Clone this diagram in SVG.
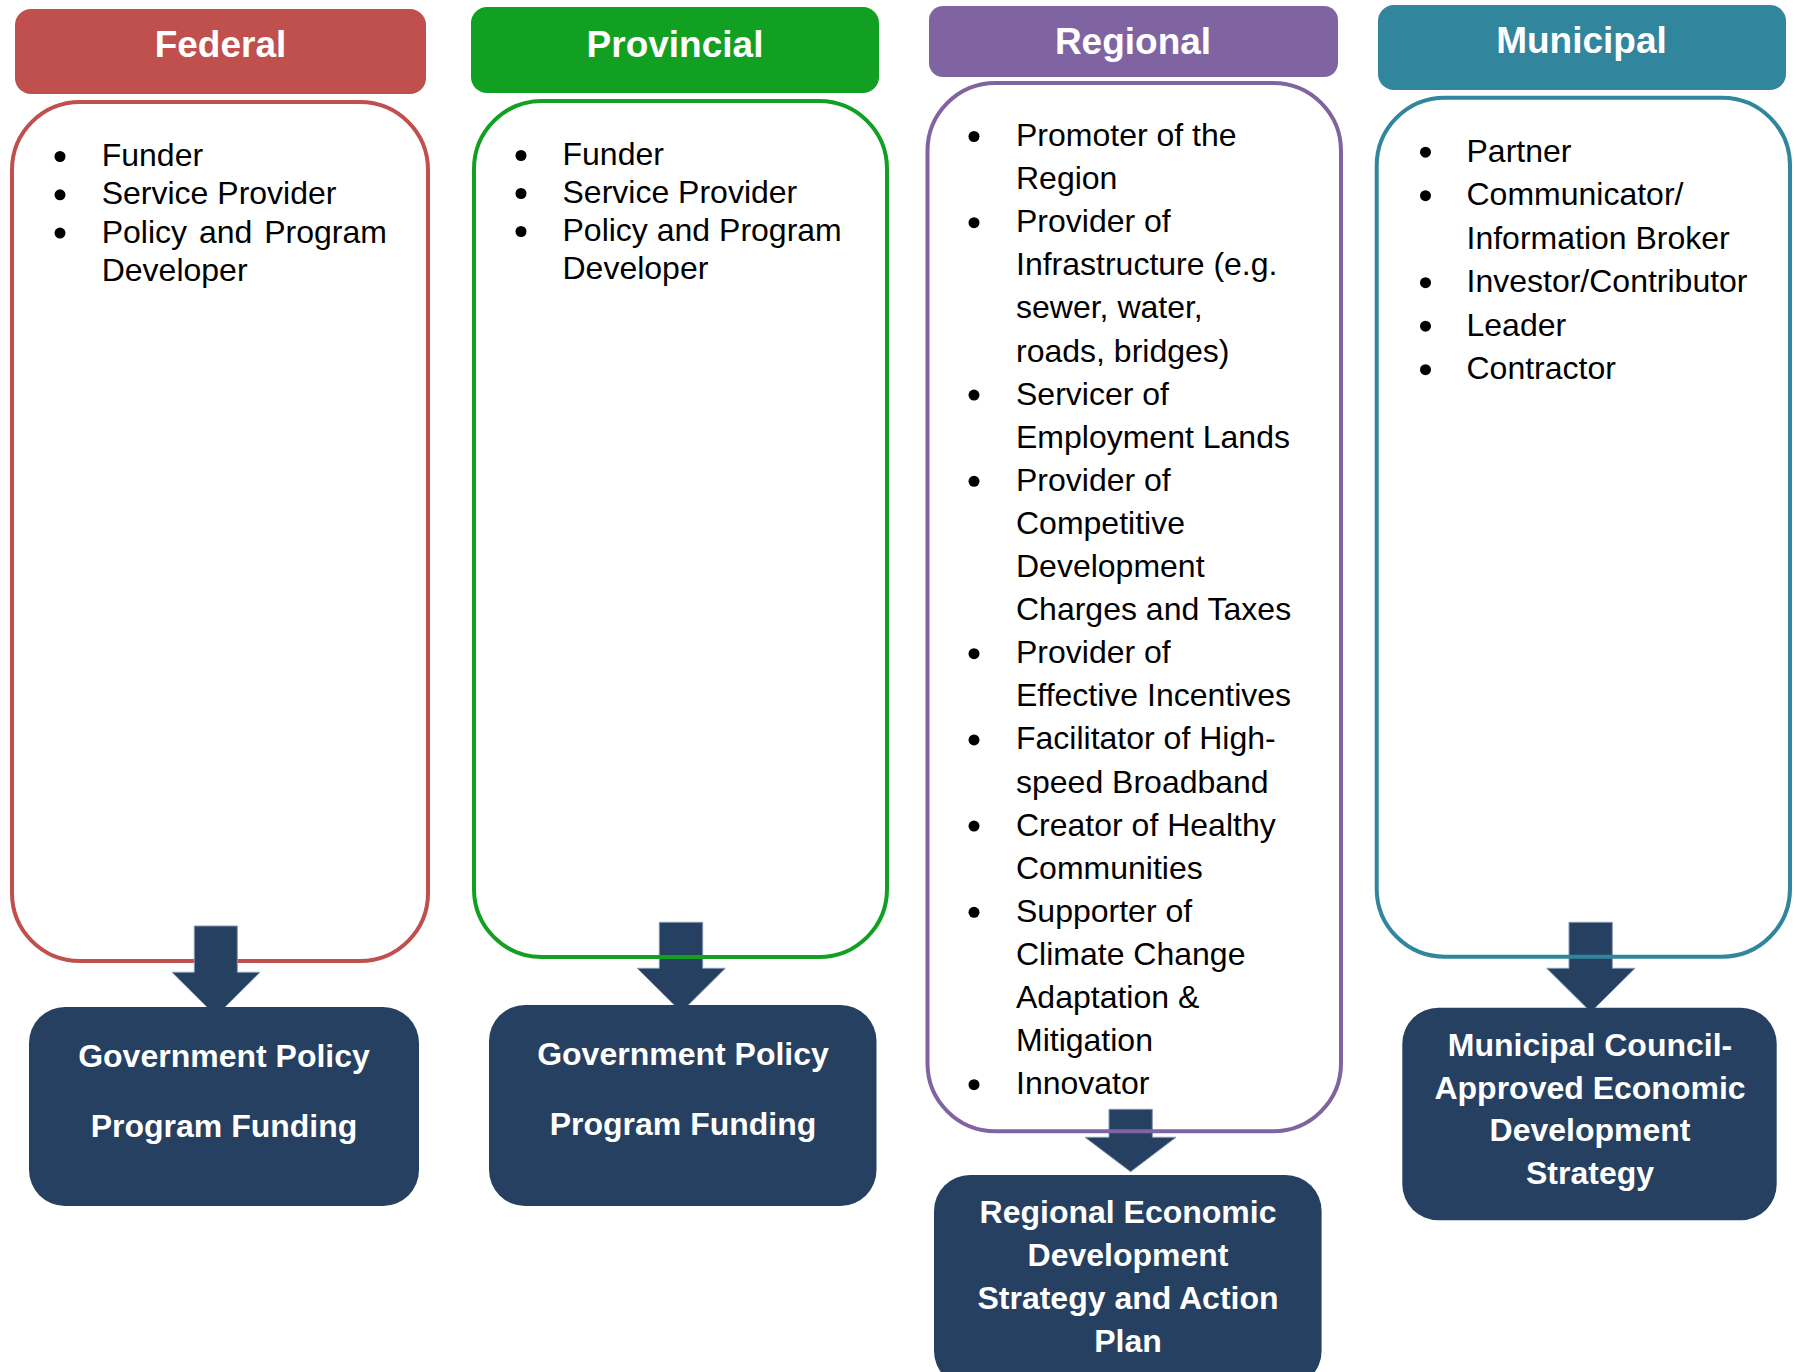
<svg xmlns="http://www.w3.org/2000/svg" width="1796" height="1372" viewBox="0 0 1796 1372">
  <style>
    .hdr { stroke: none; }
    .hdr-t { font-family: "Liberation Sans", Arial, sans-serif; font-weight: bold; font-size: 37px; fill: #ffffff; text-anchor: middle; }
    .body { fill: none; stroke-width: 4; }
    .item { font-family: "Liberation Sans", Arial, sans-serif; font-size: 32px; fill: #000000; }
    .dot { fill: #000000; }
    .out { fill: #264061; }
    .out-t { font-family: "Liberation Sans", Arial, sans-serif; font-weight: bold; font-size: 32px; fill: #ffffff; text-anchor: middle; }
    .arrow { fill: #264061; stroke: #8496b0; stroke-width: 1; }
  </style>

  <rect width="1796" height="1372" fill="#ffffff"/>

  <!-- Federal roles -->
  <g id="federal">
    <rect class="hdr" x="15" y="9" width="411" height="85" rx="16" fill="#c0504d"/>
    <text class="hdr-t" x="220.5" y="57">Federal</text>
    <rect class="body" x="12" y="102" width="416" height="859" rx="68" stroke="#c0504d"/>
    <circle class="dot" cx="60" cy="156.5" r="5.5"/>
    <circle class="dot" cx="60" cy="194.8" r="5.5"/>
    <circle class="dot" cx="60" cy="233.1" r="5.5"/>
    <text class="item" x="101.7" y="166">Funder</text>
    <text class="item" x="101.7" y="204.3">Service Provider</text>
    <text class="item" x="101.7" y="242.6" word-spacing="3">Policy and Program</text>
    <text class="item" x="101.7" y="280.9">Developer</text>
  </g>

  <!-- Block arrows from each role panel down to its outcome -->
  <g id="connectors">
    <polygon class="arrow" points="194.3,926 237.3,926 237.3,972.3 260,972.3 216,1016 172,972.3 194.3,972.3"/>
    <polygon class="arrow" points="659.3,922.3 702.7,922.3 702.7,968.3 725.3,968.3 681.3,1012 637.3,968.3 659.3,968.3"/>
    <polygon class="arrow" points="1109,1109.3 1152.3,1109.3 1152.3,1137.3 1176,1137.3 1130.6,1171.7 1085,1137.3 1109,1137.3"/>
    <polygon class="arrow" points="1569,922.3 1612.3,922.3 1612.3,968.3 1635,968.3 1590.8,1012 1546.7,968.3 1569,968.3"/>
  </g>

  <!-- Provincial roles -->
  <g id="provincial">
    <rect class="hdr" x="471" y="7" width="408" height="86" rx="16" fill="#11a021"/>
    <text class="hdr-t" x="675" y="56.5">Provincial</text>
    <rect class="body" x="474" y="101" width="413" height="856" rx="68" stroke="#11a021"/>
    <circle class="dot" cx="521" cy="155.5" r="5.5"/>
    <circle class="dot" cx="521" cy="193.5" r="5.5"/>
    <circle class="dot" cx="521" cy="231.5" r="5.5"/>
    <text class="item" x="562.5" y="165">Funder</text>
    <text class="item" x="562.5" y="203">Service Provider</text>
    <text class="item" x="562.5" y="241">Policy and Program</text>
    <text class="item" x="562.5" y="279">Developer</text>
  </g>

  <!-- Regional roles -->
  <g id="regional">
    <rect class="hdr" x="929" y="6" width="409" height="71" rx="14" fill="#8064a2"/>
    <text class="hdr-t" x="1133" y="53.5">Regional</text>
    <rect class="body" x="927.5" y="83" width="413.5" height="1048.3" rx="68" stroke="#8064a2"/>
    <circle class="dot" cx="974" cy="136.5" r="5.5"/>
    <circle class="dot" cx="974" cy="222.7" r="5.5"/>
    <circle class="dot" cx="974" cy="395.1" r="5.5"/>
    <circle class="dot" cx="974" cy="481.3" r="5.5"/>
    <circle class="dot" cx="974" cy="653.7" r="5.5"/>
    <circle class="dot" cx="974" cy="739.9" r="5.5"/>
    <circle class="dot" cx="974" cy="826.1" r="5.5"/>
    <circle class="dot" cx="974" cy="912.3" r="5.5"/>
    <circle class="dot" cx="974" cy="1084.7" r="5.5"/>
    <text class="item" x="1016" y="146">Promoter of the</text>
    <text class="item" x="1016" y="189.1">Region</text>
    <text class="item" x="1016" y="232.2">Provider of</text>
    <text class="item" x="1016" y="275.3">Infrastructure (e.g.</text>
    <text class="item" x="1016" y="318.4">sewer, water,</text>
    <text class="item" x="1016" y="361.5">roads, bridges)</text>
    <text class="item" x="1016" y="404.6">Servicer of</text>
    <text class="item" x="1016" y="447.7">Employment Lands</text>
    <text class="item" x="1016" y="490.8">Provider of</text>
    <text class="item" x="1016" y="533.9">Competitive</text>
    <text class="item" x="1016" y="577">Development</text>
    <text class="item" x="1016" y="620.1">Charges and Taxes</text>
    <text class="item" x="1016" y="663.2">Provider of</text>
    <text class="item" x="1016" y="706.3">Effective Incentives</text>
    <text class="item" x="1016" y="749.4">Facilitator of High-</text>
    <text class="item" x="1016" y="792.5">speed Broadband</text>
    <text class="item" x="1016" y="835.6">Creator of Healthy</text>
    <text class="item" x="1016" y="878.7">Communities</text>
    <text class="item" x="1016" y="921.8">Supporter of</text>
    <text class="item" x="1016" y="964.9">Climate Change</text>
    <text class="item" x="1016" y="1008">Adaptation &amp;</text>
    <text class="item" x="1016" y="1051.1">Mitigation</text>
    <text class="item" x="1016" y="1094.2">Innovator</text>
  </g>

  <!-- Municipal roles -->
  <g id="municipal">
    <rect class="hdr" x="1378" y="5" width="408" height="85" rx="16" fill="#31859c"/>
    <text class="hdr-t" x="1581.5" y="52.7">Municipal</text>
    <rect class="body" x="1376.7" y="97.7" width="413.3" height="859" rx="68" stroke="#31859c"/>
    <circle class="dot" cx="1425.5" cy="152.2" r="5.5"/>
    <circle class="dot" cx="1425.5" cy="195.7" r="5.5"/>
    <circle class="dot" cx="1425.5" cy="282.7" r="5.5"/>
    <circle class="dot" cx="1425.5" cy="326.2" r="5.5"/>
    <circle class="dot" cx="1425.5" cy="369.7" r="5.5"/>
    <text class="item" x="1466.5" y="161.7">Partner</text>
    <text class="item" x="1466.5" y="205.2">Communicator/</text>
    <text class="item" x="1466.5" y="248.7">Information Broker</text>
    <text class="item" x="1466.5" y="292.2">Investor/Contributor</text>
    <text class="item" x="1466.5" y="335.7">Leader</text>
    <text class="item" x="1466.5" y="379.2">Contractor</text>
  </g>

  <!-- Outcome boxes -->
  <g id="federal-outcome">
    <rect class="out" x="29" y="1007" width="390" height="199" rx="36"/>
    <text class="out-t" x="224" y="1067">Government Policy</text>
    <text class="out-t" x="224" y="1137">Program Funding</text>
  </g>
  <g id="provincial-outcome">
    <rect class="out" x="489" y="1005" width="387.5" height="201" rx="36"/>
    <text class="out-t" x="683" y="1065">Government Policy</text>
    <text class="out-t" x="683" y="1135">Program Funding</text>
  </g>
  <g id="regional-outcome">
    <rect class="out" x="934" y="1175" width="387.6" height="212" rx="36"/>
    <text class="out-t" x="1128" y="1223.3">Regional Economic</text>
    <text class="out-t" x="1128" y="1266.1">Development</text>
    <text class="out-t" x="1128" y="1308.9">Strategy and Action</text>
    <text class="out-t" x="1128" y="1351.7">Plan</text>
  </g>
  <g id="municipal-outcome">
    <rect class="out" x="1402.3" y="1007.7" width="374.4" height="212.5" rx="36"/>
    <text class="out-t" x="1590" y="1056">Municipal Council-</text>
    <text class="out-t" x="1590" y="1098.6">Approved Economic</text>
    <text class="out-t" x="1590" y="1141.2">Development</text>
    <text class="out-t" x="1590" y="1183.8">Strategy</text>
  </g>
</svg>
